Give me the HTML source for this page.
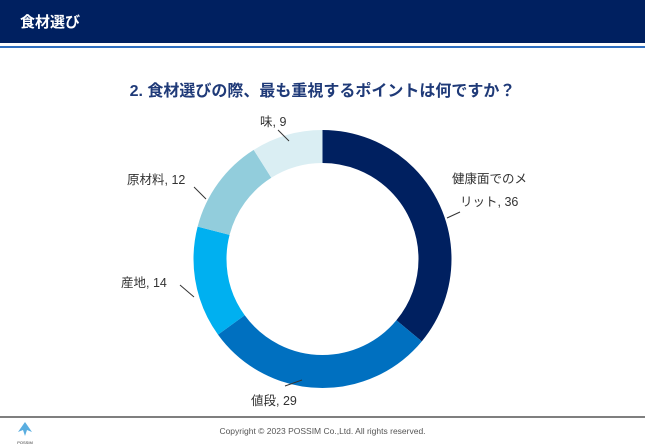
<!DOCTYPE html>
<html><head><meta charset="utf-8"><style>
body{margin:0;width:645px;height:447px;overflow:hidden;background:#fff;font-family:"Liberation Sans","Noto Sans CJK JP",sans-serif;position:relative}
.hdr{position:absolute;left:0;top:0;width:645px;height:43px;background:#002060}
.hdr span{position:absolute;left:20px;top:11px;color:#fff;font-size:15px;font-weight:bold}
.l1{position:absolute;left:0;top:46px;width:645px;height:2px;background:#2f6fc0}
.title{position:absolute;left:0;width:645px;top:77px;text-align:center;color:#1f3a78;font-size:16px;font-weight:bold}
.foot{position:absolute;left:0;top:416px;width:645px;height:2px;background:#7f7f7f}
.copy{position:absolute;left:0;width:645px;top:426px;text-align:center;font-size:8.5px;color:#555}
</style></head><body>
<div class="hdr"><span>食材選び</span></div>
<div class="l1"></div>
<div class="title">2. 食材選びの際、最も重視するポイントは何ですか？</div>
<svg width="645" height="447" style="position:absolute;left:0;top:0">
<g transform="translate(322.5,259) rotate(-90)" fill="none" stroke-width="33">
<circle r="112.5" stroke="#002060" stroke-dasharray="254.5 1000" />
<circle r="112.5" stroke="#0070C0" stroke-dasharray="0 254.5 205 1000" />
<circle r="112.5" stroke="#00B0F0" stroke-dasharray="0 459.5 99 1000" />
<circle r="112.5" stroke="#92CDDC" stroke-dasharray="0 558.5 84.8 1000" />
<circle r="112.5" stroke="#DAEEF3" stroke-dasharray="0 643.3 64 1000" />
</g>
<g stroke="#333" stroke-width="1">
<line x1="447" y1="218" x2="460" y2="212"/>
<line x1="285" y1="386" x2="302" y2="380"/>
<line x1="180" y1="285" x2="194" y2="297"/>
<line x1="194" y1="187" x2="206" y2="199"/>
<line x1="278" y1="130" x2="289" y2="141"/>
</g>
<g font-size="12.5" fill="#333" font-family="Liberation Sans,Noto Sans CJK JP,sans-serif">
<text x="452" y="183">健康面でのメ</text>
<text x="460" y="206">リット, 36</text>
<text x="251" y="405">値段, 29</text>
<text x="121" y="287">産地, 14</text>
<text x="127" y="184">原材料, 12</text>
<text x="260" y="126">味, 9</text>
</g>
<g transform="translate(18,422)">
<polygon points="0,10 7,0 14,10 9,8 7,14 5,8" fill="#5aaee0"/>
<text x="7" y="22" font-size="4" text-anchor="middle" fill="#333" font-family="Liberation Sans,sans-serif">POSSIM</text>
</g>
</svg>
<div class="foot"></div>
<div class="copy">Copyright © 2023 POSSIM Co.,Ltd. All rights reserved.</div>
</body></html>
